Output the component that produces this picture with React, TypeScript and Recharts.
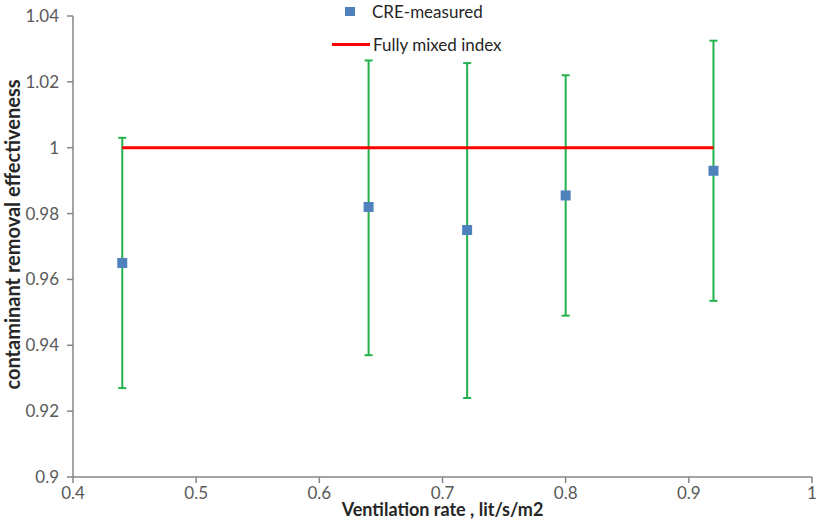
import { ScatterChart, Scatter, XAxis, YAxis, ErrorBar, Label } from "recharts";

// ventilation rates where CRE was measured
const rates = [0.44, 0.64, 0.72, 0.8, 0.92];
const creMeasured = [0.965, 0.982, 0.975, 0.9855, 0.993];
const errLow = [0.927, 0.937, 0.924, 0.949, 0.9535];
const errHigh = [1.003, 1.0265, 1.0257, 1.022, 1.0325];

// fully mixed reference line
const mixedX = [0.44, 0.92];
const mixedY = [1, 1];

const xTicks = [0.4, 0.5, 0.6, 0.7, 0.8, 0.9, 1];
const yTicks = [0.9, 0.92, 0.94, 0.96, 0.98, 1, 1.02, 1.04];

const measured = rates.map((x, i) => ({
  x,
  y: creMeasured[i],
  err: [creMeasured[i] - errLow[i], errHigh[i] - creMeasured[i]],
}));
const mixed = mixedX.map((x, i) => ({ x, y: mixedY[i] }));

const FONT = "Lato, 'Open Sans', sans-serif";
const AXIS = "#868686";
const TICK = { fill: "#595959", fontSize: 17, fontFamily: FONT };

const Square = (props: any) => (
  <rect x={props.cx - 5} y={props.cy - 5} width={10} height={10} fill="#4f81bd" />
);

const Nothing = () => <g />;

const Legend = () => (
  <div style={{ position: "absolute", left: 330, top: 0, fontFamily: FONT, fontSize: 17, color: "#262626" }}>
    <div style={{ display: "flex", alignItems: "center", height: 22 }}>
      <div style={{ width: 10, height: 9, background: "#4f81bd", marginLeft: 15, marginRight: 17 }} />
      <span>CRE-measured</span>
    </div>
    <div style={{ display: "flex", alignItems: "center", height: 22, marginTop: 11 }}>
      <div style={{ width: 38, height: 3, background: "#ff0000", marginLeft: 2, marginRight: 3 }} />
      <span>Fully mixed index</span>
    </div>
  </div>
);

export default function App() {
  return (
    <div style={{ position: "absolute", left: 0, top: 0, width: 820, height: 525, background: "#fff" }}>
      <ScatterChart width={820} height={525} margin={{ top: 16, right: 8, bottom: 0, left: 0 }}>
        <XAxis
          dataKey="x"
          type="number"
          domain={[0.4, 1]}
          ticks={xTicks}
          height={48}
          stroke={AXIS}
          strokeWidth={1.5}
          tickSize={6}
          tickMargin={4}
          tick={TICK}
          tickFormatter={(v) => String(v)}
        >
          <Label
            value="Ventilation rate , lit/s/m2"
            position="insideBottom"
            offset={9}
            style={{ fontFamily: FONT, fontSize: 18, fontWeight: 700, fill: "#262626" }}
          />
        </XAxis>
        <YAxis
          dataKey="y"
          type="number"
          domain={[0.9, 1.04]}
          ticks={yTicks}
          width={73}
          stroke={AXIS}
          strokeWidth={1.5}
          tickSize={6}
          tickMargin={8}
          tick={TICK}
          tickFormatter={(v) => String(v)}
        >
          <Label
            value="contaminant removal effectiveness"
            angle={-90}
            position="insideLeft"
            offset={13}
            dy={-12}
            style={{ fontFamily: FONT, fontSize: 20, fontWeight: 700, fill: "#262626", textAnchor: "middle" }}
          />
        </YAxis>
        <Scatter
          data={mixed}
          line={{ stroke: "#ff0000", strokeWidth: 3 }}
          shape={Nothing}
          isAnimationActive={false}
        />
        <Scatter data={measured} shape={Square} isAnimationActive={false}>
          <ErrorBar dataKey="err" direction="y" width={4} stroke="#22b14c" strokeWidth={2} />
        </Scatter>
      </ScatterChart>
      <Legend />
    </div>
  );
}
